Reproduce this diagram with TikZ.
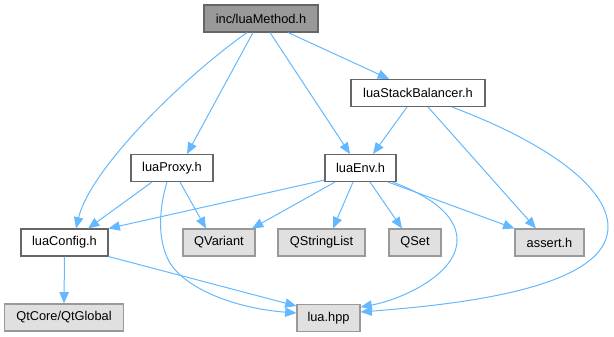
\documentclass[tikz,border=0pt]{standalone}
\usepackage{fontspec}
\setmainfont{Liberation Sans}
\usetikzlibrary{
  arrows.meta,
  positioning,
  calc
}
\definecolor{edgecolor}{RGB}{99, 184, 255}
\definecolor{rootfill}{RGB}{153, 153, 153}
\definecolor{rootborder}{RGB}{102, 102, 102}
\definecolor{fileborder}{RGB}{102, 102, 102}
\definecolor{extfill}{RGB}{224, 224, 224}
\definecolor{extborder}{RGB}{153, 153, 153}
\tikzset{
boxtext/.style={
  font=\fontsize{9.6}{11}\selectfont,
  text=black,
  inner xsep=2pt,
  inner ysep=0pt,
  minimum height=20.25pt
},
rootbox/.style={
  draw=rootborder,
  fill=rootfill,
  line width=0.8pt,
  boxtext
},
filebox/.style={
  draw=fileborder,
  fill=white,
  line width=0.8pt,
  boxtext
},
extbox/.style={
  draw=extborder,
  fill=extfill,
  line width=0.8pt,
  boxtext
},
include/.style={
  -{Triangle[length=8.5pt,width=7pt]},
  line width=0.75pt,
  draw=edgecolor
}
}

\begin{document}
\begin{tikzpicture}[x=0.75pt, y=-0.75pt]
  \useasboundingbox (0,0) rectangle (614,336);

  % files
  \node[rootbox, minimum width=85.5pt] (luamethod) at (261,18.5) {inc/luaMethod.h};
  \node[filebox, minimum width=100.5pt] (stackbal) at (418,93) {luaStackBalancer.h};
  \node[filebox, minimum width=61.5pt] (luaproxy) at (172,168) {luaProxy.h};
  \node[filebox, minimum width=53.25pt] (luaenv) at (360.5,168) {luaEnv.h};
  \node[filebox, minimum width=65.25pt] (luaconfig) at (64.5,242.5) {luaConfig.h};

  % external headers
  \node[extbox, minimum width=54pt] (qvariant) at (219,242.5) {QVariant};
  \node[extbox, minimum width=65.25pt] (qstringlist) at (321.5,242.5) {QStringList};
  \node[extbox, minimum width=39pt] (qset) at (415,242.5) {QSet};
  \node[extbox, minimum width=51.75pt] (asserth) at (549.5,242.5) {assert.h};
  \node[extbox, minimum width=89.25pt] (qtglobal) at (64,317.5) {QtCore/QtGlobal};
  \node[extbox, minimum width=47.25pt] (luahpp) at (328.5,318) {lua.hpp};

  % includes
  \draw[include] ($(luamethod.south)+(-14,0)$) .. controls (180,80) and (90,170) .. ($(luaconfig.north)+(11.5,0)$);
  \draw[include] ($(luamethod.south)+(-8,0)$) -- ($(luaproxy.north)+(15,0)$);
  \draw[include] ($(luamethod.south)+(9,0)$) -- ($(luaenv.north)+(-10.5,0)$);
  \draw[include] ($(luamethod.south)+(27,0)$) -- ($(stackbal.north)+(-29,0)$);

  \draw[include] ($(stackbal.south)+(-11,0)$) -- ($(luaenv.north)+(12.5,0)$);
  \draw[include] ($(stackbal.south)+(10,0)$) -- ($(asserth.north)+(-13.5,0)$);
  \draw[include] ($(stackbal.south)+(34,0)$) .. controls (540,140) and (608,185) .. (608,227)
    .. controls (608,290) and (450,305) .. ($(luahpp.east)+(0,-6)$);

  \draw[include] ($(luaproxy.south)+(-20,0)$) -- ($(luaconfig.north)+(23.5,0)$);
  \draw[include] ($(luaproxy.south)+(8,0)$) -- ($(qvariant.north)+(-13,0)$);
  \draw[include] ($(luaproxy.south)+(-5,0)$) .. controls (160,205) and (157,235) .. (167,257)
    .. controls (178,285) and (230,308) .. ($(luahpp.west)+(0,-5)$);

  \draw[include] ($(luaenv.south west)+(0,-2)$) -- (luaconfig.north east);
  \draw[include] ($(luaenv.south)+(-25.5,0)$) -- ($(qvariant.north)+(33,0)$);
  \draw[include] ($(luaenv.south)+(-7.5,0)$) -- ($(qstringlist.north)+(11.5,0)$);
  \draw[include] ($(luaenv.south)+(9.5,0)$) -- ($(qset.north)+(-13,0)$);
  \draw[include] ($(luaenv.south)+(27.5,0)$) -- (asserth.north west);
  \draw[include] ($(luaenv.south)+(32,0)$) .. controls (440,200) and (457,220) .. (457,240)
    .. controls (457,275) and (400,300) .. ($(luahpp.east)+(0,-11)$);

  \draw[include] (luaconfig.south) -- (qtglobal.north);
  \draw[include] (luaconfig.south east) -- ($(luahpp.west)+(0,-12)$);
\end{tikzpicture}
\end{document}
